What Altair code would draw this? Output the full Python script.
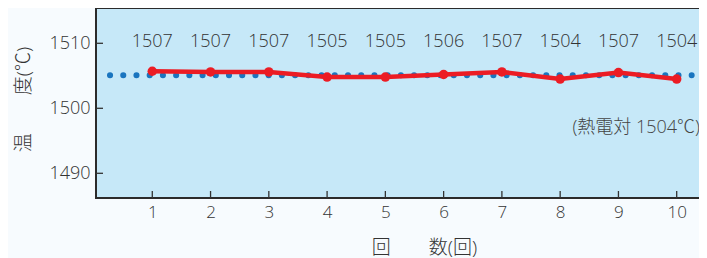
import altair as alt
import pandas as pd

# data
runs = [1, 2, 3, 4, 5, 6, 7, 8, 9, 10]
measured = [1505.7, 1505.6, 1505.6, 1504.8, 1504.8, 1505.2, 1505.6, 1504.5, 1505.5, 1504.5]
labels = ["1507", "1507", "1507", "1505", "1505", "1506", "1507", "1504", "1507", "1504"]
label_level = 1510.2
ref_level = [1505.1]
ref_start = [0.274]
ref_end = [10.257]
note_text = ["(熱電対 1504℃)"]
note_x = [10.40]
note_y = [1497.0]
y_ticks = [1490, 1500, 1510]

FONT = "Open Sans, Noto Sans CJK JP"
W, H = 611, 190
XDOM = [0.034, 10.52]
YDOM = [1486.2, 1515.43]

df = pd.DataFrame({"run": runs, "temp": measured, "label": labels,
                   "ly": [label_level] * len(runs)})
df_ref = pd.DataFrame({"x1": ref_start, "x2": ref_end, "y": ref_level})
df_note = pd.DataFrame({"x": note_x, "y": note_y, "t": note_text})
df_yt = pd.DataFrame({"v": y_ticks})
df_xt = pd.DataFrame({"v": runs})

xs = alt.Scale(domain=XDOM, nice=False, zero=False)
ys = alt.Scale(domain=YDOM, nice=False, zero=False)

x_axis = alt.Axis(values=runs, format="d", grid=False, ticks=False, domain=False,
                  labelFont=FONT, labelFontSize=17, labelFontWeight=300,
                  labelColor="#333", labelPadding=6,
                  title="回　　数(回)", titleFont=FONT, titleFontSize=19,
                  titleFontWeight=300, titleColor="#333",
                  titleX=328, titleY=49, titleBaseline="middle", titleAlign="center")
y_axis = alt.Axis(values=y_ticks, format="d", grid=False, ticks=False, domain=False,
                  labelFont=FONT, labelFontSize=18, labelFontWeight=300,
                  labelColor="#333", labelPadding=6,
                  title="温　　度(℃)", titleFont=FONT, titleFontSize=19,
                  titleFontWeight=300, titleColor="#333",
                  titleX=-73, titleY=91, titleAngle=270,
                  titleBaseline="middle", titleAlign="center")

ref = alt.Chart(df_ref).mark_rule(color="#1a75bf", strokeWidth=6, strokeCap="round",
                                  strokeDash=[0.1, 13.12]).encode(
    x=alt.X("x1:Q", scale=xs, axis=x_axis),
    x2="x2:Q",
    y=alt.Y("y:Q", scale=ys, axis=y_axis),
)

line = alt.Chart(df).mark_line(color="#ec1c24", strokeWidth=4.5).encode(
    x=alt.X("run:Q", scale=xs), y=alt.Y("temp:Q", scale=ys))
pts = alt.Chart(df).mark_point(color="#ec1c24", filled=True, size=90, opacity=1).encode(
    x=alt.X("run:Q", scale=xs), y=alt.Y("temp:Q", scale=ys))

txt = alt.Chart(df).mark_text(font=FONT, fontSize=18, fontWeight=300, color="#333",
                              baseline="middle", align="center").encode(
    x=alt.X("run:Q", scale=xs), y=alt.Y("ly:Q", scale=ys), text="label:N")

note = alt.Chart(df_note).mark_text(font=FONT, fontSize=18, fontWeight=300, color="#444",
                                    baseline="middle", align="right").encode(
    x=alt.X("x:Q", scale=xs), y=alt.Y("y:Q", scale=ys), text="t:N")

ytk = alt.Chart(df_yt).mark_rule(color="#333", strokeWidth=1.3).encode(
    y=alt.Y("v:Q", scale=ys), x=alt.value(0), x2=alt.value(7))
xtk = alt.Chart(df_xt).mark_rule(color="#333", strokeWidth=1.3).encode(
    x=alt.X("v:Q", scale=xs), y=alt.value(H - 7), y2=alt.value(H))

chart = alt.layer(ref, line, pts, txt, note, ytk, xtk).properties(
    width=W, height=H,
    padding={"left": 88, "top": 0, "right": -8, "bottom": 60},
    autosize=alt.AutoSizeParams(type="none"),
    background="#f7fbfe",
).configure_view(fill="#c6e8f8", stroke="#2b2b2b", strokeWidth=2)

chart.save("out.html", embed_options={"renderer": "svg", "actions": False})
